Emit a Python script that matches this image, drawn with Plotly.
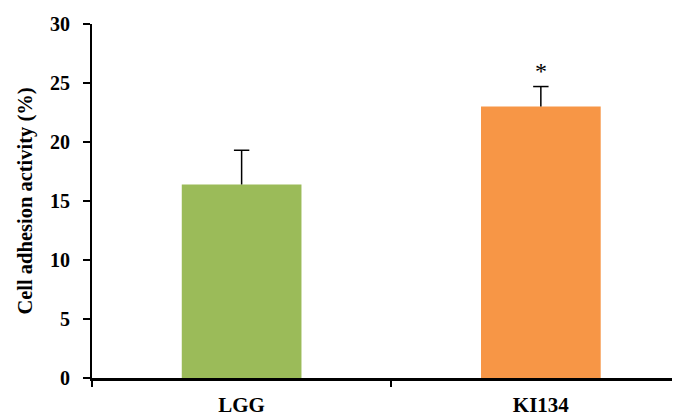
import plotly.graph_objects as go

categories = ["LGG", "KI134"]
values = [16.4, 23.0]
errors = [2.9, 1.7]
colors = ["#9BBB59", "#F79646"]
sig_labels = ["", "*"]
y_ticks = [0, 5, 10, 15, 20, 25, 30]

fig = go.Figure()
fig.add_trace(go.Bar(
    x=categories, y=values, width=0.40,
    marker=dict(color=colors, line=dict(width=0)),
    showlegend=False, hoverinfo="skip",
))

# upper-only error whiskers with top cap
wx, wy = [], []
for c, v, e in zip(categories, values, errors):
    wx += [c, c, None]
    wy += [v, v + e, None]
fig.add_trace(go.Scatter(x=wx, y=wy, mode="lines",
                         line=dict(color="black", width=1.5),
                         showlegend=False, hoverinfo="skip"))
fig.add_trace(go.Scatter(x=categories, y=[v + e for v, e in zip(values, errors)],
                         mode="markers",
                         marker=dict(symbol="line-ew", size=11,
                                     line=dict(color="black", width=1.5)),
                         showlegend=False, hoverinfo="skip"))

for c, v, e, s in zip(categories, values, errors, sig_labels):
    if s:
        fig.add_annotation(x=c, y=v + e, text=s, showarrow=False,
                           yanchor="bottom", yshift=1,
                           font=dict(family="Liberation Serif", size=24, color="black"))

fig.update_layout(
    width=672, height=408,
    margin=dict(l=84, r=0, t=16, b=38),
    paper_bgcolor="white", plot_bgcolor="white",
    font=dict(family="Liberation Serif", color="black"),
    xaxis=dict(range=[-0.5, 1.465], showline=True, linecolor="black", linewidth=2.5,
               ticks="outside", tickson="boundaries", ticklen=6, tickwidth=2,
               tickcolor="black", showgrid=False, zeroline=False, ticklabelstandoff=6,
               tickfont=dict(family="Liberation Serif", size=21, color="black", weight="bold")),
    yaxis=dict(range=[0, 30], tickvals=y_ticks, showline=True, linecolor="black",
               linewidth=2, ticks="outside", ticklen=7, tickwidth=2, tickcolor="black",
               showgrid=False, zeroline=False, ticklabelstandoff=9,
               tickfont=dict(family="Liberation Serif", size=20, color="black", weight="bold"),
               title=dict(text="Cell adhesion activity (%)", standoff=12,
                          font=dict(family="Liberation Serif", size=20.5, color="black", weight="bold"))),
)

fig.write_html("out.html")
